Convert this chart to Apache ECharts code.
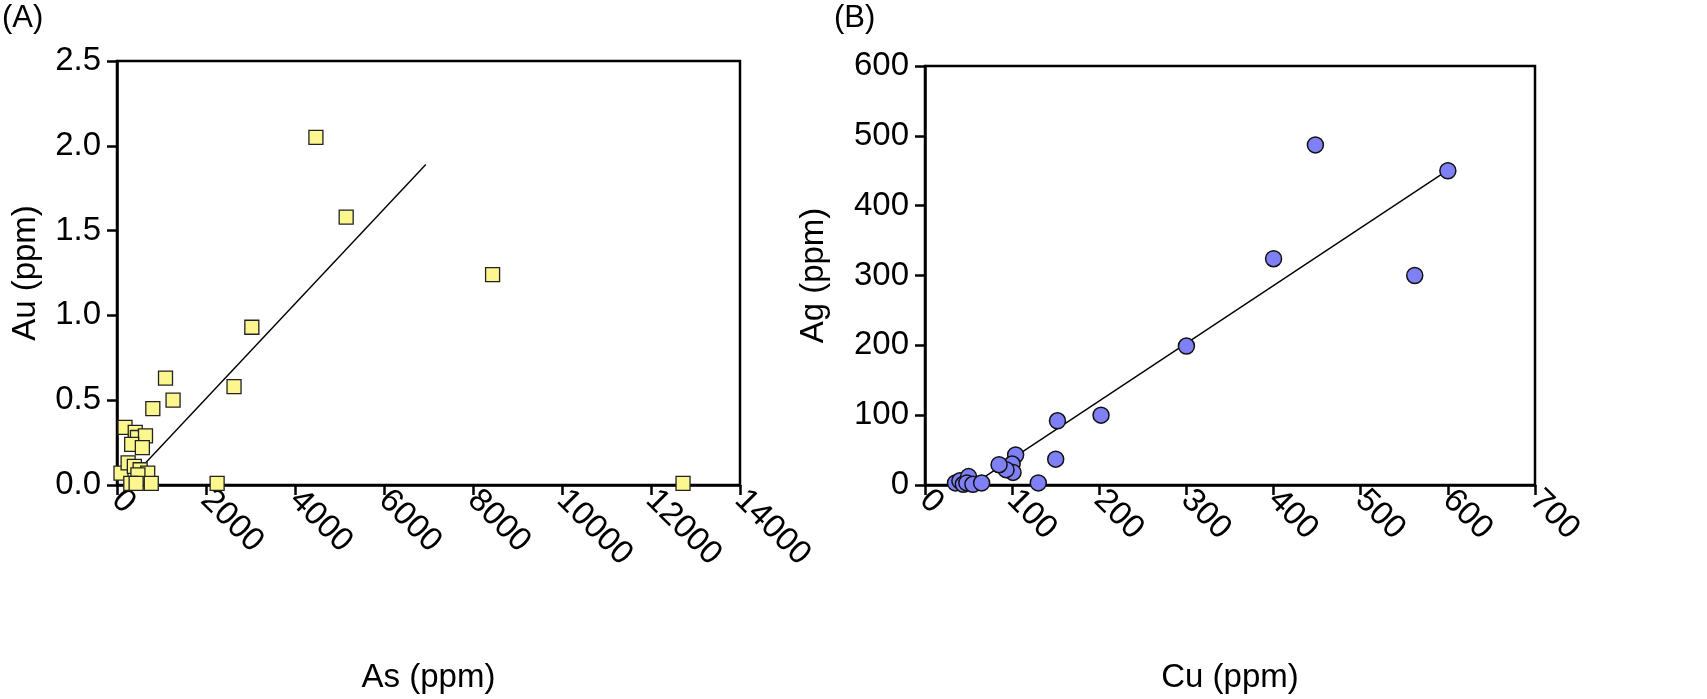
<!DOCTYPE html>
<html>
<head>
<meta charset="utf-8">
<script src="https://cdn.jsdelivr.net/npm/echarts@6/dist/echarts.min.js"></script>
<style>
html,body{margin:0;padding:0;background:#fff;}
#chart{width:1707px;height:699px;}
</style>
</head>
<body>
<div id="chart"></div>
<script>
// Panel A: As vs Au
const asPpm = [4470, 5150, 8440, 3030, 2630, 1090, 1260, 805, 2250, 12720,
  180, 410, 460, 640, 330, 570,
  90, 250, 390, 520, 690, 470, 310, 430, 770];
const auPpm = [2.05, 1.58, 1.24, 0.93, 0.58, 0.63, 0.50, 0.45, 0.01, 0.01,
  0.34, 0.31, 0.28, 0.29, 0.24, 0.22,
  0.07, 0.13, 0.11, 0.09, 0.07, 0.06, 0.01, 0.01, 0.01];
const fitA = [[640, 0.13], [6940, 1.89]];
const noteA = {x: 6650, y: 1.645, text: 'R\u00B2=0.66'};
const xTicksA = {min: 0, max: 14000, interval: 2000};
const yTicksA = {min: 0, max: 2.5, interval: 0.5};

// Panel B: Cu vs Ag
const cuPpm = [448, 600, 400, 562, 300, 202, 152, 150, 130, 104, 100, 101, 93, 85,
  35, 40, 44, 50, 48, 55, 65];
const agPpm = [487, 450, 324, 300, 199, 100, 92, 37, 3, 43, 30, 18, 22, 29,
  3, 6, 1, 12, 3, 1, 3];
const fitB = [[58, 3], [600, 451]];
const noteB = {x: 405, y: 427, text: 'R\u00B2=0.91'};
const xTicksB = {min: 0, max: 700, interval: 100};
const yTicksB = {min: 0, max: 600, interval: 100};

const FONT = "'Liberation Sans', Arial, sans-serif";
const FS = 33;

function pairs(xs, ys) { return xs.map((x, i) => [x, ys[i]]); }

function xAxisCfg(idx, t, name) {
  return {
    type: 'value', gridIndex: idx, min: t.min, max: t.max, interval: t.interval,
    name: name, nameLocation: 'middle', nameGap: 176,
    nameTextStyle: {fontSize: FS, color: '#000', fontFamily: FONT},
    axisLine: {show: true, onZero: false, lineStyle: {color: '#000', width: 2.5}},
    axisTick: {show: true, length: 10, lineStyle: {color: '#000', width: 2.5}},
    axisLabel: {rotate: -45, margin: 10, fontSize: FS, color: '#000', fontFamily: FONT,
      formatter: v => String(v)},
    splitLine: {show: false}
  };
}
function yAxisCfg(idx, t, name, gap, fmt) {
  return {
    type: 'value', gridIndex: idx, min: t.min, max: t.max, interval: t.interval,
    name: name, nameLocation: 'middle', nameGap: gap, nameRotate: 90,
    nameTextStyle: {fontSize: FS, color: '#000', fontFamily: FONT},
    axisLine: {show: true, onZero: false, lineStyle: {color: '#000', width: 2.5}},
    axisTick: {show: true, length: 10, lineStyle: {color: '#000', width: 2.5}},
    axisLabel: {margin: 16, fontSize: FS, color: '#000', fontFamily: FONT, formatter: fmt},
    splitLine: {show: false}
  };
}
function noteSeries(idx, n) {
  return {
    type: 'scatter', xAxisIndex: idx, yAxisIndex: idx, symbolSize: 1,
    itemStyle: {opacity: 0}, silent: true, z: 5,
    label: {show: true, position: 'right', distance: 0, formatter: n.text,
      fontSize: 34, color: '#000', fontFamily: FONT},
    data: [[n.x, n.y]]
  };
}

const chart = echarts.init(document.getElementById('chart'), null, {renderer: 'canvas'});
chart.setOption({
  animation: false,
  backgroundColor: '#fff',
  textStyle: {fontFamily: FONT},
  title: [
    {text: '(A)', left: 0, top: 0, padding: [3, 2], textStyle: {fontSize: 31, fontWeight: 'normal', color: '#000', fontFamily: FONT}},
    {text: '(B)', left: 832, top: 0, padding: [3, 2], textStyle: {fontSize: 31, fontWeight: 'normal', color: '#000', fontFamily: FONT}}
  ],
  grid: [
    {left: 117, top: 61, width: 623, height: 425, show: true, borderColor: '#000', borderWidth: 2.5, backgroundColor: 'transparent'},
    {left: 925, top: 66, width: 610, height: 420, show: true, borderColor: '#000', borderWidth: 2.5, backgroundColor: 'transparent'}
  ],
  xAxis: [
    xAxisCfg(0, xTicksA, 'As (ppm)'),
    xAxisCfg(1, xTicksB, 'Cu (ppm)')
  ],
  yAxis: [
    yAxisCfg(0, yTicksA, 'Au (ppm)', 75, v => v.toFixed(1)),
    yAxisCfg(1, yTicksB, 'Ag (ppm)', 95, v => String(v))
  ],
  series: [
    {type: 'line', xAxisIndex: 0, yAxisIndex: 0, data: fitA, showSymbol: false, silent: true,
      lineStyle: {color: '#000', width: 1.4}, z: 2},
    {type: 'scatter', xAxisIndex: 0, yAxisIndex: 0, data: pairs(asPpm, auPpm),
      symbol: 'rect', symbolSize: 14,
      itemStyle: {color: '#fbf78e', borderColor: '#222', borderWidth: 1.3, opacity: 1}, z: 3},
    noteSeries(0, noteA),
    {type: 'line', xAxisIndex: 1, yAxisIndex: 1, data: fitB, showSymbol: false, silent: true,
      lineStyle: {color: '#000', width: 1.4}, z: 2},
    {type: 'scatter', xAxisIndex: 1, yAxisIndex: 1, data: pairs(cuPpm, agPpm),
      symbol: 'circle', symbolSize: 16,
      itemStyle: {color: '#7f80f6', borderColor: '#111', borderWidth: 1.5, opacity: 1}, z: 3},
    noteSeries(1, noteB)
  ]
});
</script>
</body>
</html>
